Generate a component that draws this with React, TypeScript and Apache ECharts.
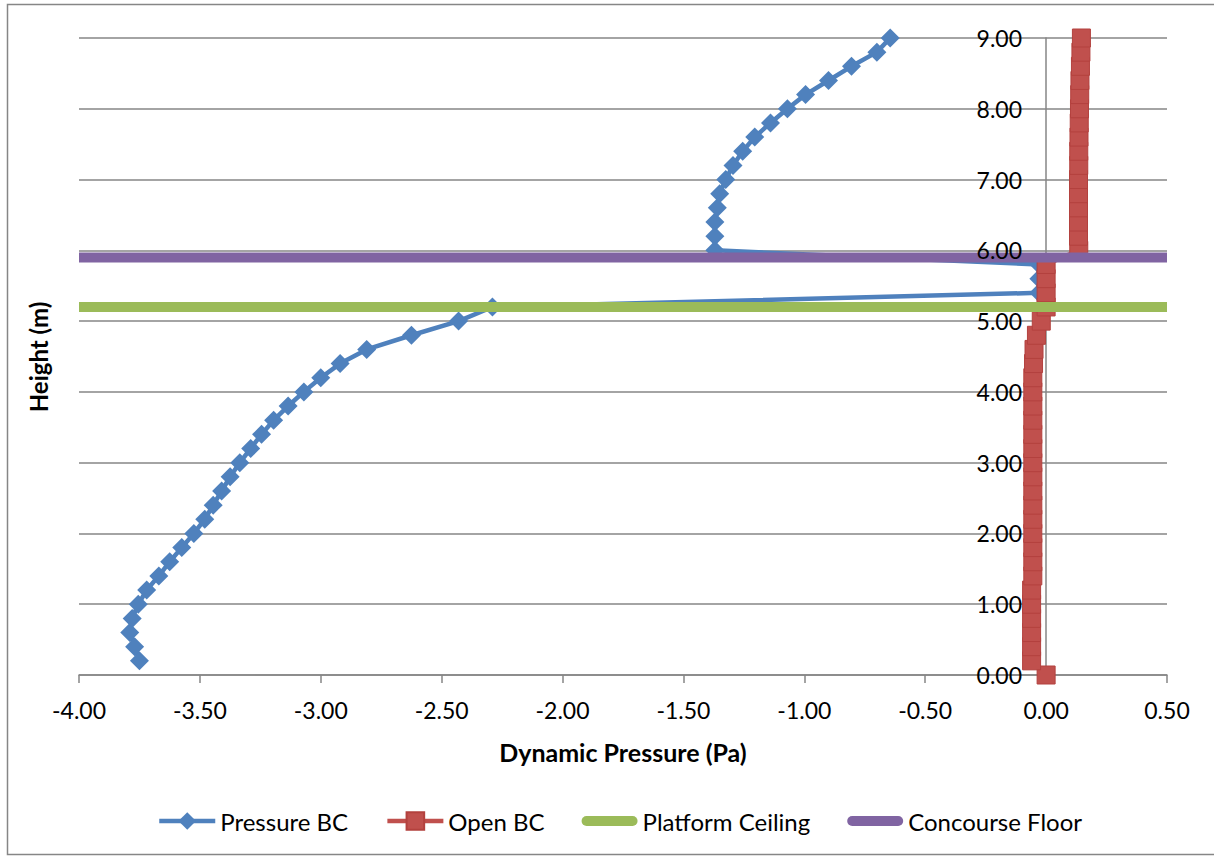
import React, { useEffect, useRef } from "react";
import * as echarts from "echarts";

const pressureHeights = [0.2, 0.4, 0.6, 0.8, 1.0, 1.2, 1.4, 1.6, 1.8, 2.0, 2.2, 2.4, 2.6, 2.8, 3.0, 3.2, 3.4, 3.6, 3.8, 4.0, 4.2, 4.4, 4.6, 4.8, 5.0, 5.2, 5.4, 5.6, 5.8, 6.0, 6.2, 6.4, 6.6, 6.8, 7.0, 7.2, 7.4, 7.6, 7.8, 8.0, 8.2, 8.4, 8.6, 8.8, 9.0];
const pressureValues = [-3.75, -3.77, -3.79, -3.78, -3.755, -3.72, -3.67, -3.625, -3.575, -3.525, -3.48, -3.445, -3.41, -3.375, -3.335, -3.29, -3.245, -3.195, -3.135, -3.07, -3.0, -2.92, -2.81, -2.625, -2.43, -2.29, -0.03, -0.03, -0.03, -1.37, -1.37, -1.37, -1.36, -1.35, -1.325, -1.295, -1.255, -1.205, -1.14, -1.07, -0.995, -0.9, -0.805, -0.7, -0.645];

const openHeights = [0.0, 0.2, 0.4, 0.6, 0.8, 1.0, 1.2, 1.4, 1.6, 1.8, 2.0, 2.2, 2.4, 2.6, 2.8, 3.0, 3.2, 3.4, 3.6, 3.8, 4.0, 4.2, 4.4, 4.6, 4.8, 5.0, 5.2, 5.4, 5.6, 5.8, 6.0, 6.2, 6.4, 6.6, 6.8, 7.0, 7.2, 7.4, 7.6, 7.8, 8.0, 8.2, 8.4, 8.6, 8.8, 9.0];
const openValues = [0.0, -0.06, -0.06, -0.06, -0.06, -0.06, -0.06, -0.055, -0.055, -0.055, -0.055, -0.055, -0.055, -0.055, -0.055, -0.055, -0.055, -0.055, -0.055, -0.055, -0.055, -0.055, -0.052, -0.05, -0.04, -0.02, 0.0, 0.0, 0.0, 0.0, 0.135, 0.134, 0.134, 0.134, 0.134, 0.134, 0.135, 0.135, 0.136, 0.137, 0.138, 0.139, 0.14, 0.142, 0.144, 0.146];

const platformCeilingX = [-4.0, 0.5];
const platformCeilingY = [5.2, 5.2];
const concourseFloorX = [-4.0, 0.5];
const concourseFloorY = [5.9, 5.9];

const seriesNames = ["Pressure BC", "Open BC", "Platform Ceiling", "Concourse Floor"];
const colors = ["#4F81BD", "#C0504D", "#9BBB59", "#8064A2"];

const zip = (xs: number[], ys: number[]) => xs.map((x, i) => [x, ys[i]]);

// thick rounded bar centred in a 56x22 box (degenerate moves set the bounding box)
const barIcon =
  "path://M0,0 L0,0 M56,22 L56,22 M5,6 L51,6 A5,5 0 0 1 51,16 L5,16 A5,5 0 0 1 5,6 Z";

export default function App() {
  const ref = useRef<HTMLDivElement>(null);
  useEffect(() => {
    if (!ref.current) return;
    const chart = echarts.init(ref.current, null, { renderer: "svg" });
    const font = "Lato, 'Open Sans', sans-serif";
    const gridLeft = 79;
    const gridRight = 47;
    const xMin = -4;
    const xMax = 0.5;
    const plotW = 1214 - gridLeft - gridRight;
    const zeroOffset = Math.round((plotW * (0 - xMin)) / (xMax - xMin));
    const fmt = (v: number) => v.toFixed(2);
    const yBase = {
      type: "value",
      min: 0,
      max: 9,
      interval: 1,
      position: "left",
      offset: -zeroOffset,
      axisTick: { show: false },
    };
    chart.setOption({
      animation: false,
      backgroundColor: "#ffffff",
      textStyle: { fontFamily: font },
      grid: { left: gridLeft, right: gridRight, top: 38, bottom: 183, containLabel: false },
      xAxis: {
        type: "value",
        min: xMin,
        max: xMax,
        interval: 0.5,
        name: "Dynamic Pressure (Pa)",
        nameLocation: "middle",
        nameGap: 64,
        nameTextStyle: { fontSize: 25, fontWeight: "bold", color: "#000", fontFamily: font },
        axisLine: { onZero: false, lineStyle: { color: "#868686", width: 1.5 } },
        axisTick: { show: true, length: 8, lineStyle: { color: "#868686", width: 1.5 } },
        axisLabel: { fontSize: 23, color: "#000", margin: 23, formatter: fmt },
        splitLine: { show: false },
      },
      yAxis: [
        {
          ...yBase,
          axisLine: { show: true, onZero: false, lineStyle: { color: "#868686", width: 1.5 } },
          axisLabel: { show: false },
          splitLine: { show: true, lineStyle: { color: "#868686", width: 1.5 } },
          z: 0,
        },
        {
          ...yBase,
          axisLine: { show: false, onZero: false },
          axisLabel: { show: true, fontSize: 23, color: "#000", margin: 24, formatter: fmt },
          splitLine: { show: false },
          z: 20,
        },
      ],
      legend: {
        data: [
          { name: seriesNames[0] },
          { name: seriesNames[1] },
          { name: seriesNames[2], icon: barIcon },
          { name: seriesNames[3], icon: barIcon },
        ],
        left: 152,
        top: 804,
        itemWidth: 56,
        itemHeight: 22,
        itemGap: 37,
        lineStyle: { width: 4.5 },
        textStyle: { fontSize: 24, lineHeight: 24, color: "#000", fontFamily: font },
      },
      graphic: [
        {
          type: "rect",
          shape: { x: 7.5, y: 4.5, width: 1220, height: 850 },
          style: { fill: "none", stroke: "#868686", lineWidth: 1.5 },
          silent: true,
          z: -10,
        },
        {
          type: "text",
          x: 38,
          y: 357,
          rotation: Math.PI / 2,
          style: {
            text: "Height (m)",
            fontSize: 24,
            fontWeight: "bold",
            fontFamily: font,
            fill: "#000",
            align: "center",
            verticalAlign: "middle",
            textAlign: "center",
            textVerticalAlign: "middle",
          },
        },
      ],
      series: [
        {
          name: seriesNames[0],
          type: "line",
          yAxisIndex: 0,
          data: zip(pressureValues, pressureHeights),
          symbol: "diamond",
          symbolSize: 19,
          color: colors[0],
          lineStyle: { width: 4.5, color: colors[0] },
          itemStyle: { color: colors[0] },
          z: 2,
        },
        {
          name: seriesNames[1],
          type: "line",
          yAxisIndex: 0,
          data: zip(openValues, openHeights),
          symbol: "rect",
          symbolSize: 18,
          color: colors[1],
          lineStyle: { width: 4.5, color: colors[1] },
          itemStyle: { color: colors[1], borderColor: "#b3413e", borderWidth: 1 },
          z: 3,
        },
        {
          name: seriesNames[2],
          type: "line",
          yAxisIndex: 0,
          data: zip(platformCeilingX, platformCeilingY),
          symbol: "none",
          color: colors[2],
          lineStyle: { width: 10, color: colors[2] },
          z: 4,
        },
        {
          name: seriesNames[3],
          type: "line",
          yAxisIndex: 0,
          data: zip(concourseFloorX, concourseFloorY),
          symbol: "none",
          color: colors[3],
          lineStyle: { width: 10, color: colors[3] },
          z: 5,
        },
      ],
    });
    return () => chart.dispose();
  }, []);
  return (
    <div
      ref={ref}
      style={{ position: "fixed", left: 0, top: 0, width: 1214, height: 858 }}
    />
  );
}
